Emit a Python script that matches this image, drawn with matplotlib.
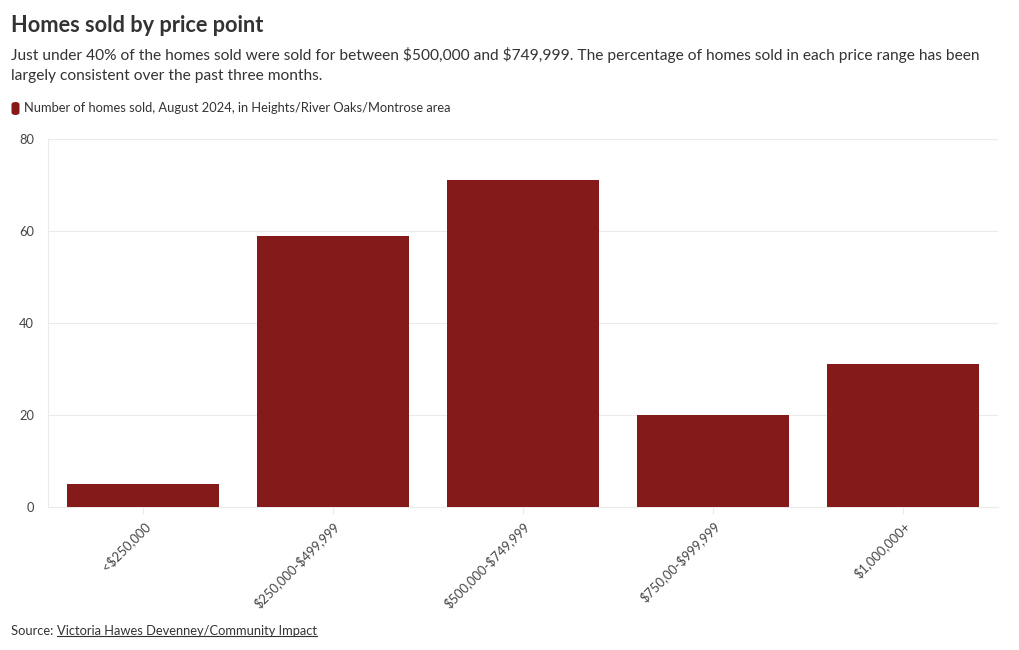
import matplotlib
matplotlib.use("Agg")
import matplotlib.pyplot as plt
from matplotlib.patches import FancyBboxPatch
from matplotlib.lines import Line2D

categories = ["<$250,000", "$250,000-$499,999", "$500,000-$749,999", "$750,00-$999,999", "$1,000,000+"]
homes_sold = [5, 59, 71, 20, 31]
y_ticks = [0, 20, 40, 60, 80]

title = "Homes sold by price point"
subtitle = ("Just under 40% of the homes sold were sold for between $500,000 and $749,999. The percentage of homes sold in each price range has been\n"
            "largely consistent over the past three months.")
legend_label = "Number of homes sold, August 2024, in Heights/River Oaks/Montrose area"
source_prefix = "Source: "
source_link = "Victoria Hawes Devenney/Community Impact"

plt.rcParams['font.family'] = ['Lato', 'DejaVu Sans']
plt.rcParams['text.parse_math'] = False
bar_color = "#841a1a"
text_color = "#333333"
grid_color = "#ebebeb"

W, H = 1020, 650
fig = plt.figure(figsize=(W/100, H/100), dpi=100)
ax = fig.add_axes([48/W, 1-507/H, 950/W, 368/H])

x = list(range(len(categories)))
ax.bar(x, homes_sold, width=0.795, color=bar_color, zorder=3)
ax.set_xlim(-0.5, len(categories)-0.5)
ax.set_ylim(0, 80)
ax.set_yticks(y_ticks)
ax.set_yticklabels([str(v) for v in y_ticks])
ax.set_xticks(x)
ax.set_xticklabels(categories, rotation=45, ha='right', rotation_mode='anchor')
ax.grid(axis='y', color=grid_color, linewidth=0.8, zorder=0)
for s in ['top', 'right']:
    ax.spines[s].set_visible(False)
for s in ['left', 'bottom']:
    ax.spines[s].set_color(grid_color)
    ax.spines[s].set_linewidth(0.8)
ax.tick_params(axis='y', length=0, pad=10, labelsize=9.3, labelcolor="#444444")
ax.tick_params(axis='x', length=5, color=grid_color, pad=4, labelsize=9.3, labelcolor="#444444")

fig.text(11/W, 1-25/H, title, fontsize=15.7, fontweight='bold', color=text_color, va='center', ha='left')
fig.text(11/W, 1-65/H, subtitle, fontsize=11.2, color=text_color, va='center', ha='left', linespacing=1.5)

fig.patches.append(FancyBboxPatch((11.5/W, 1-115/H), 8/W, 13/H, boxstyle="round,pad=0,rounding_size=0.004",
                                  transform=fig.transFigure, facecolor=bar_color, edgecolor='none'))
fig.text(24/W, 1-108/H, legend_label, fontsize=9.3, color=text_color, va='center', ha='left')

t1 = fig.text(11/W, 1-631/H, source_prefix, fontsize=9.3, color=text_color, va='center', ha='left')
fig.canvas.draw()
r = fig.canvas.get_renderer()
bb = t1.get_window_extent(r)
t2 = fig.text(bb.x1/W, 1-631/H, source_link, fontsize=9.3, color=text_color, va='center', ha='left')
fig.canvas.draw()
bb2 = t2.get_window_extent(r)
fig.lines.append(Line2D([bb2.x0/W, bb2.x1/W], [(bb2.y0+1)/H, (bb2.y0+1)/H], transform=fig.transFigure,
                        color=text_color, linewidth=0.8))

fig.savefig("out.png", dpi=100, facecolor='white')
